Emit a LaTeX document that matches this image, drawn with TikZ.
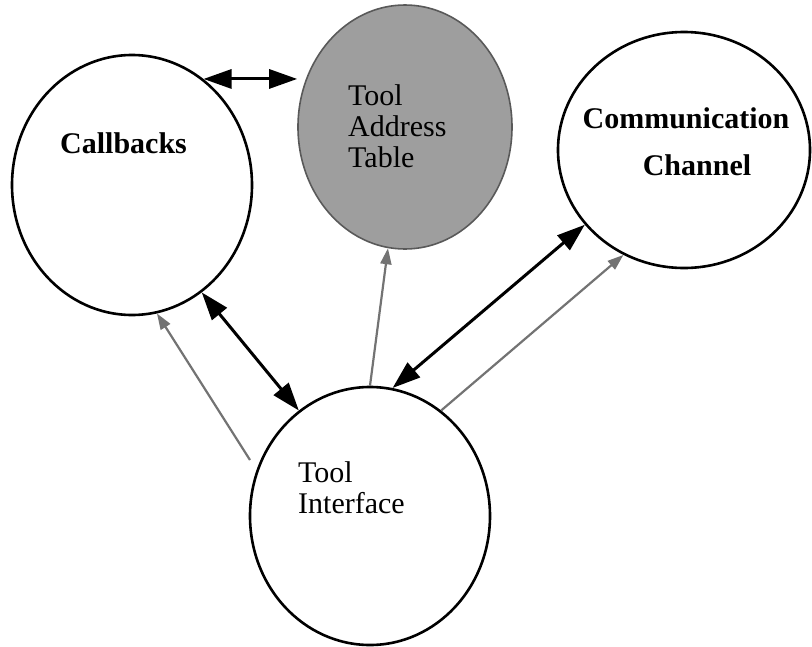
\documentclass[tikz,border=0pt]{standalone}
\usepackage{fontspec}
\setmainfont{Liberation Serif}
\usetikzlibrary{shapes.geometric,arrows.meta}

\tikzset{
  x=1pt, y=-1pt,
  bubble/.style={ellipse, draw=black, line width=2.6pt, inner sep=0pt},
  shaded/.style={ellipse, inner sep=0pt, fill=black!38, draw=black!65, line width=1.6pt},
  label/.style={inner sep=0pt, font=\fontsize{30}{31}\selectfont},
  boldlabel/.style={label, font=\fontsize{30}{31}\selectfont\bfseries},
  flow/.style={line width=3pt, {Triangle[length=28pt,width=19pt]}-{Triangle[length=28pt,width=19pt]}},
  signal/.style={line width=2.2pt, draw=black!55, -{Triangle[length=16pt,width=11pt]}, fill=black!55},
}

\begin{document}
\begin{tikzpicture}
  \useasboundingbox (0,0) rectangle (812,646);

  % the four components
  \node[bubble, minimum width=240pt, minimum height=260pt] (cb) at (132,185) {};
  \node[shaded, minimum width=214pt, minimum height=244pt] (tat) at (405,127) {};
  \node[bubble, minimum width=252pt, minimum height=236pt] (cc) at (684,150) {};
  \node[bubble, minimum width=240pt, minimum height=258pt] (ti) at (370,516) {};

  % their captions
  \node[boldlabel, anchor=base west] (cbtxt) at (60,153) {Callbacks};
  \node[label, anchor=base west] (tat1) at (348,105) {Tool};
  \node[label, anchor=base west] (tat2) at (348,136) {Address};
  \node[label, anchor=base west] (tat3) at (348,167) {Table};
  \node[boldlabel, anchor=base] (cc1) at (686,128) {Communication};
  \node[boldlabel, anchor=base] (cc2) at (697,175) {Channel};
  \node[label, anchor=base west] (ti1) at (298,482) {Tool};
  \node[label, anchor=base west] (ti2) at (298,513) {Interface};

  % two-way data flows
  \draw[flow] (cb.56) -- (cb.56 -| tat.west);
  \draw[flow] (cb.-57) -- (ti.124);
  \draw[flow] (cc.217) -- (ti.80);

  % one-way signals leaving the tool interface
  \coordinate (sigtail) at (250,460);
  \draw[signal] (sigtail) -- (cb.-79);
  \draw[signal] (ti.north) -- (tat.-98);
  \draw[signal] (ti.56) -- (cc.240);
\end{tikzpicture}
\end{document}
